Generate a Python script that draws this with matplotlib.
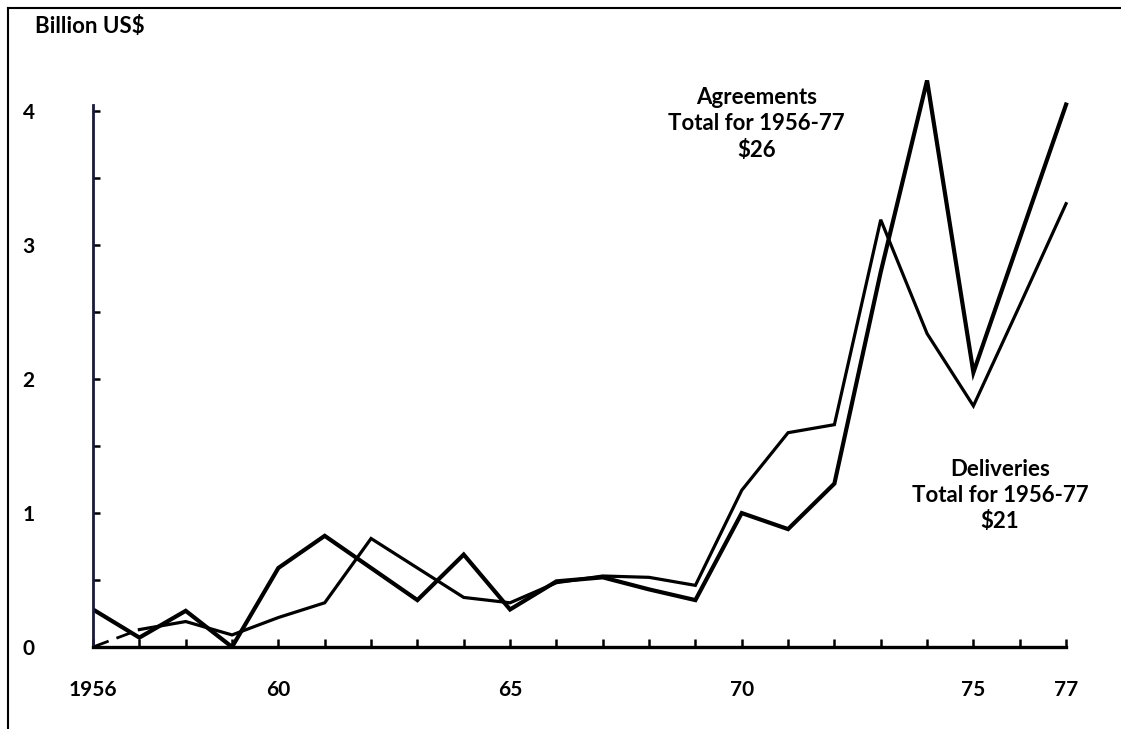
import matplotlib.pyplot as plt
from matplotlib.lines import Line2D

plt.rcParams['font.family'] = ['Lato', 'DejaVu Sans']
plt.rcParams['font.weight'] = 'bold'

# data (billion US$)
years = list(range(1956, 1978))
agreements = [0.28, 0.07, 0.27, 0.0, 0.59, 0.83, 0.59, 0.35, 0.69, 0.28, 0.49,
              0.52, 0.43, 0.35, 1.0, 0.88, 1.22, 2.8, 4.23, 2.05, 3.05, 4.05]
deliveries = [0.0, 0.13, 0.19, 0.09, 0.22, 0.33, 0.81, 0.59, 0.37, 0.33, 0.48,
              0.53, 0.52, 0.46, 1.17, 1.6, 1.66, 3.19, 2.34, 1.8, 2.55, 3.31]
xtick_pos = [1956, 1960, 1965, 1970, 1975, 1977]
xtick_lab = ['1956', '60', '65', '70', '75', '77']
ytick_pos = [0, 1, 2, 3, 4]

fig = plt.figure(figsize=(11.21, 7.29), dpi=100)
ax = fig.add_axes([0.083, 0.1125, 0.8804, 0.79])

ax.plot(years, agreements, color='black', lw=3.0, solid_joinstyle='miter')
# first delivery segment is dashed in the original
ax.plot(years[:2], deliveries[:2], color='black', lw=2.0, ls=(0, (6, 3)))
ax.plot(years[1:], deliveries[1:], color='black', lw=2.3, solid_joinstyle='miter')

ax.set_xlim(1956, 1977.3)
ax.set_ylim(0, 4.3)

for s in ['top', 'right']:
    ax.spines[s].set_visible(False)
ax.spines['left'].set_bounds(0, 4.05)
ax.spines['bottom'].set_bounds(1956, 1977)
ax.spines['left'].set_linewidth(2)
ax.spines['bottom'].set_linewidth(2.4)
ax.spines['left'].set_color('#1a1a3a')

ax.set_xticks(years, minor=True)
ax.set_xticks(xtick_pos)
ax.set_xticklabels(xtick_lab)
ax.set_yticks([v / 2 for v in range(0, 9)], minor=True)
ax.set_yticks(ytick_pos)
ax.set_yticklabels([str(v) for v in ytick_pos])
ax.tick_params(axis='both', which='both', direction='in', width=1.8)
ax.tick_params(axis='x', which='major', length=6, pad=24, labelsize=15)
ax.tick_params(axis='x', which='minor', length=6)
ax.tick_params(axis='y', which='major', length=5, pad=42, labelsize=15)
ax.tick_params(axis='y', which='minor', length=5)

fig.text(0.031, 0.963, 'Billion US$', fontsize=16, fontweight='bold', va='center', ha='left')
fig.text(0.675, 0.83, 'Agreements\nTotal for 1956-77\n$26', fontsize=16,
         fontweight='bold', ha='center', va='center', linespacing=1.3)
fig.text(0.892, 0.32, 'Deliveries\nTotal for 1956-77\n$21', fontsize=16,
         fontweight='bold', ha='center', va='center', linespacing=1.3)

# frame lines on top and left of the page
fig.add_artist(Line2D([0.007, 0.007], [0, 0.989], transform=fig.transFigure, color='black', lw=1.5))
fig.add_artist(Line2D([0.007, 1], [0.989, 0.989], transform=fig.transFigure, color='black', lw=1.5))

fig.savefig('out.png', dpi=100)
